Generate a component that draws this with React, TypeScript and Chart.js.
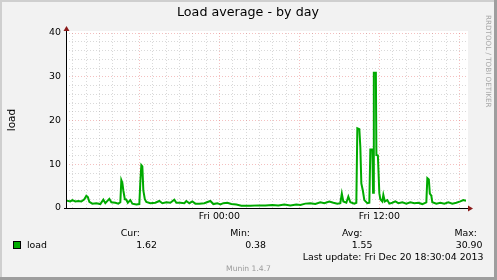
import React, { useEffect, useRef } from 'react';
import { Chart, registerables } from 'chart.js';

Chart.register(...registerables);

// hours since Thu 00:00
const times = [
  12.5, 12.825, 12.975, 13.2, 13.425, 13.65, 13.875, 14.025, 14.137, 14.25, 14.475, 14.775,
  15.075, 15.3, 15.45, 15.75, 15.9, 16.2, 16.425, 16.575, 16.65, 16.725, 16.8, 16.912,
  17.025, 17.137, 17.325, 17.475, 17.775, 18.0, 18.075, 18.15, 18.225, 18.3, 18.412, 18.525,
  18.825, 19.2, 19.5, 19.725, 20.025, 20.325, 20.625, 20.775, 21.075, 21.375, 21.525, 21.75,
  21.975, 22.2, 22.5, 22.875, 23.325, 23.55, 23.85, 24.075, 24.3, 24.6, 24.9, 25.275,
  25.65, 26.325, 26.925, 27.45, 27.975, 28.425, 28.875, 29.325, 29.775, 30.075, 30.45, 30.825,
  31.2, 31.575, 31.875, 32.25, 32.55, 32.85, 33.075, 33.187, 33.3, 33.525, 33.675, 33.825,
  34.125, 34.275, 34.35, 34.5, 34.575, 34.65, 34.762, 34.875, 35.1, 35.25, 35.325, 35.475,
  35.53, 35.587, 35.74, 35.78, 35.89, 36.0, 36.075, 36.225, 36.3, 36.412, 36.6, 36.75,
  36.975, 37.2, 37.425, 37.725, 38.025, 38.325, 38.625, 38.925, 39.225, 39.525, 39.6, 39.712,
  39.787, 39.9, 39.975, 40.275, 40.575, 40.875, 41.175, 41.475, 41.775, 42.075, 42.3, 42.5,
];
const loads = [
  1.7, 1.5, 1.8, 1.5, 1.6, 1.5, 2.0, 2.8, 2.5, 1.4, 1.0, 1.1,
  0.9, 1.9, 1.1, 2.1, 1.3, 1.2, 1.0, 1.3, 6.4, 5.8, 4.0, 2.0,
  1.9, 1.2, 1.8, 1.0, 0.8, 0.9, 6.0, 9.8, 9.5, 4.0, 2.0, 1.4,
  1.1, 1.2, 1.6, 1.1, 1.3, 1.2, 1.9, 1.2, 1.2, 1.1, 1.6, 1.1,
  1.5, 1.0, 1.0, 1.1, 1.6, 0.9, 1.1, 0.8, 1.1, 1.2, 0.9, 0.8,
  0.5, 0.5, 0.6, 0.6, 0.7, 0.6, 0.8, 0.6, 0.8, 0.7, 1.0, 1.1,
  0.9, 1.3, 1.1, 1.5, 1.2, 1.0, 1.1, 3.3, 1.5, 1.2, 2.6, 1.3,
  1.0, 1.2, 18.2, 18.0, 13.9, 5.6, 4.0, 1.8, 1.1, 1.2, 13.4, 13.4,
  3.5, 30.9, 30.9, 12.1, 12.0, 3.4, 2.0, 1.5, 3.0, 1.5, 1.8, 1.0,
  1.2, 1.5, 1.1, 1.3, 1.0, 1.3, 1.1, 1.2, 0.9, 1.3, 6.8, 6.5,
  3.3, 2.8, 1.3, 1.0, 1.2, 1.0, 1.3, 1.0, 1.2, 1.5, 1.8, 1.62,
];

const yLabelValues = [0, 10, 20, 30, 40];
const xLabelHours = [24, 36];
const xLabelTexts = ['Fri 00:00', 'Fri 12:00'];
const gridHours = [13, 14, 15, 16, 17, 18, 19, 20, 21, 22, 23, 24, 25, 26, 27, 28, 29, 30, 31, 32, 33, 34, 35, 36, 37, 38, 39, 40, 41, 42];
const majorHours = [18, 24, 30, 36, 42];

const seriesName = 'load';
const statHeaders = ['Cur:', 'Min:', 'Avg:', 'Max:'];
const statValues = ['1.62', '0.38', '1.55', '30.90'];
const lastUpdate = 'Last update: Fri Dec 20 18:30:04 2013';

const FONT = "'DejaVu Sans'";
const GREEN = '#00aa00';

const decorPlugin = {
  id: 'muninDecor',
  beforeDraw(chart: any) {
    const { ctx, width, height, chartArea } = chart;
    ctx.save();
    ctx.fillStyle = '#f2f2f2';
    ctx.fillRect(0, 0, width, height);
    // frame
    ctx.fillStyle = '#cfcfcf';
    ctx.fillRect(0, 0, width, 2);
    ctx.fillRect(0, 0, 2, height);
    ctx.fillStyle = '#9e9e9e';
    ctx.fillRect(0, height - 3, width, 3);
    ctx.fillRect(width - 3, 0, 3, height);
    // canvas
    ctx.fillStyle = '#ffffff';
    ctx.fillRect(chartArea.left, chartArea.top - 2, chartArea.right - chartArea.left + 2, chartArea.bottom - chartArea.top + 2);
    ctx.restore();
  },
  afterDraw(chart: any) {
    const { ctx, chartArea, width } = chart;
    const L = chartArea.left;
    const B = chartArea.bottom;
    ctx.save();
    // axes
    ctx.strokeStyle = '#000';
    ctx.lineWidth = 1;
    ctx.beginPath();
    ctx.moveTo(L + 0.5, chartArea.top - 4);
    ctx.lineTo(L + 0.5, B + 1);
    ctx.moveTo(L - 2, B + 0.5);
    ctx.lineTo(chartArea.right + 3, B + 0.5);
    ctx.stroke();
    ctx.fillStyle = '#8b1a1a';
    ctx.beginPath();
    ctx.moveTo(L + 0.5, chartArea.top - 7);
    ctx.lineTo(L - 2.5, chartArea.top - 2);
    ctx.lineTo(L + 3.5, chartArea.top - 2);
    ctx.closePath();
    ctx.fill();
    ctx.beginPath();
    ctx.moveTo(chartArea.right + 7, B + 0.5);
    ctx.lineTo(chartArea.right + 2, B - 2.5);
    ctx.lineTo(chartArea.right + 2, B + 3.5);
    ctx.closePath();
    ctx.fill();

    // title
    ctx.fillStyle = '#000';
    ctx.textBaseline = 'middle';
    ctx.textAlign = 'center';
    ctx.font = `12.7px ${FONT}`;
    ctx.fillText('Load average - by day', 248, 13);

    // y axis title
    ctx.save();
    ctx.translate(12, 120);
    ctx.rotate(-Math.PI / 2);
    ctx.font = `10.5px ${FONT}`;
    ctx.fillText(seriesName, 0, 0);
    ctx.restore();

    // watermark
    ctx.save();
    ctx.translate(488, 15);
    ctx.rotate(Math.PI / 2);
    ctx.textAlign = 'left';
    ctx.fillStyle = '#a8a8a8';
    ctx.font = `7.2px ${FONT}`;
    ctx.fillText('RRDTOOL / TOBI OETIKER', 0, 0);
    ctx.restore();

    // legend
    ctx.font = `9.4px ${FONT}`;
    ctx.fillStyle = '#000';
    const headerRight = [140, 250, 362.5, 477];
    const valueRight = [157, 266, 372.5, 482.5];
    ctx.textAlign = 'right';
    statHeaders.forEach((h, i) => ctx.fillText(h, headerRight[i], 233.5));
    statValues.forEach((v, i) => ctx.fillText(v, valueRight[i], 245.5));
    ctx.fillText(lastUpdate, 483.5, 257.5);
    ctx.textAlign = 'left';
    ctx.fillText(seriesName, 27, 245.5);
    ctx.fillStyle = GREEN;
    ctx.fillRect(13.5, 241.5, 7, 7);
    ctx.strokeStyle = '#000';
    ctx.strokeRect(13.5, 241.5, 7, 7);

    ctx.textAlign = 'center';
    ctx.fillStyle = '#9a9a9a';
    ctx.font = `7.6px ${FONT}`;
    ctx.fillText('Munin 1.4.7', width / 2, 269);
    ctx.restore();
  },
};

export default function App() {
  const ref = useRef<HTMLCanvasElement>(null);
  useEffect(() => {
    document.body.style.margin = '0';
    const canvas = ref.current!;
    const minorGrid = 'rgba(160,160,160,0.4)';
    const majorGrid = 'rgba(225,90,90,0.38)';
    const chart = new Chart(canvas, {
      type: 'line',
      data: {
        datasets: [
          {
            label: seriesName,
            data: times.map((t, i) => ({ x: t, y: loads[i] })),
            borderColor: GREEN,
            borderWidth: 2,
            pointRadius: 0,
            tension: 0,
            fill: false,
          },
        ],
      },
      options: {
        responsive: false,
        animation: false,
        events: [],
        layout: { padding: { top: 33, right: 31, left: 0, bottom: 0 } },
        plugins: { legend: { display: false }, tooltip: { enabled: false }, title: { display: false } },
        scales: {
          x: {
            type: 'linear',
            min: 12.5,
            max: 42.5,
            afterBuildTicks: (s: any) => {
              s.ticks = gridHours.map((v) => ({ value: v }));
            },
            afterFit: (s: any) => {
              s.height = 72;
            },
            grid: {
              drawTicks: false,
              color: (c: any) => (majorHours.includes(c.tick?.value) ? majorGrid : minorGrid),
            },
            border: { display: false, dash: [1, 2] },
            ticks: {
              autoSkip: false,
              maxRotation: 0,
              padding: 3,
              color: '#000',
              font: { family: 'DejaVu Sans', size: 9.4 },
              callback: (v: any) => {
                const i = xLabelHours.indexOf(Number(v));
                return i >= 0 ? xLabelTexts[i] : '';
              },
            },
          },
          y: {
            min: 0,
            max: 40,
            afterFit: (s: any) => {
              s.width = 66;
            },
            grid: {
              drawTicks: false,
              color: (c: any) => (c.tick && c.tick.value % 10 === 0 ? majorGrid : minorGrid),
            },
            border: { display: false, dash: [1, 2] },
            ticks: {
              stepSize: 2,
              autoSkip: false,
              padding: 5,
              color: '#000',
              font: { family: 'DejaVu Sans', size: 9.4 },
              callback: (v: any) => (yLabelValues.includes(Number(v)) ? String(v) : ''),
            },
          },
        },
      },
      plugins: [decorPlugin],
    });
    return () => chart.destroy();
  }, []);
  return <canvas ref={ref} width={497} height={280} style={{ display: 'block' }} />;
}
